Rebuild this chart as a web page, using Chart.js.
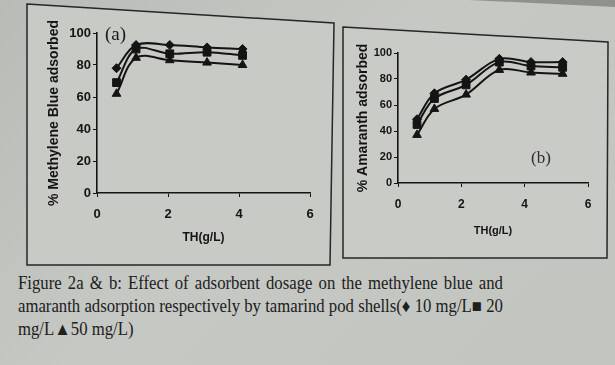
<!DOCTYPE html>
<html>
<head>
<meta charset="utf-8">
<script src="https://cdn.jsdelivr.net/npm/chart.js@4.4.1/dist/chart.umd.min.js"></script>
<style>
  html, body { margin: 0; padding: 0; }
  body {
    width: 615px; height: 365px; position: relative; overflow: hidden;
    background: linear-gradient(135deg, #b9bbb7 0%, #c6c8c4 45%, #c2c4c0 100%);
    font-family: "Liberation Sans", Arial, sans-serif;
  }
  #frame { position: absolute; left: 0; top: 0; }
  canvas { position: absolute; }
  #chartA { left: 28px; top: 8px; }
  #chartB { left: 345px; top: 30px; }
  .tag { position: absolute; font-family: "Liberation Serif", "Times New Roman", serif; }
  #tagA { left: 105px; top: 23px; font-size: 19px; color: #1a1a1a; }
  #tagB { left: 531px; top: 148px; font-size: 17px; color: #2e2e2e; }
  #caption {
    position: absolute; left: 18px; top: 272px; width: 522px;
    transform: scaleX(0.929); transform-origin: 0 0;
    font-family: "Liberation Serif", "Times New Roman", serif;
    font-size: 18px; line-height: 23px; color: #202020;
  }
  #caption .j { text-align: justify; text-align-last: justify; }
</style>
</head>
<body>
<svg id="frame" width="615" height="365">
  <polygon points="470,0 615,0 615,7" fill="#8f918b"/>
  <polygon points="27,4 334,23 330,265 27,265" fill="#c8cac6" stroke="#262626" stroke-width="1.5"/>
  <polygon points="343,27 608,42 607,258 343,258" fill="#c9cbc7" stroke="#262626" stroke-width="1.5"/>
</svg>
<canvas id="chartA" width="302" height="250"></canvas>
<canvas id="chartB" width="262" height="226"></canvas>
<div class="tag" id="tagA">(a)</div>
<div class="tag" id="tagB">(b)</div>
<div id="caption">
  <div class="j">Figure 2a &amp; b: Effect of adsorbent dosage on the methylene blue and</div>
  <div class="j">amaranth adsorption respectively by tamarind pod shells(&#9830; 10 mg/L&#9632; 20</div>
  <div>mg/L&#9650;50 mg/L)</div>
</div>
<script>
// tick labels
const yTicks = [0, 20, 40, 60, 80, 100];
const xTicks = [0, 2, 4, 6];

// (a) methylene blue, % adsorbed vs TH dose (g/L)
const doseA = [0.55, 1.1, 2.05, 3.1, 4.1];
const mb10 = [78, 92.5, 92.5, 91, 90];
const mb20 = [69, 90, 87, 88, 86];
const mb50 = [62, 84.5, 83, 81.5, 80];

// (b) amaranth, % adsorbed vs TH dose (g/L)
const doseB = [0.6, 1.15, 2.15, 3.2, 4.2, 5.2];
const am10 = [49, 69, 79.5, 95.5, 93, 93];
const am20 = [45, 65, 75.5, 93, 90, 89];
const am50 = [37, 57, 68, 87, 85, 84];

const seriesLabels = ['10 mg/L', '20 mg/L', '50 mg/L'];
const markers = ['rectRot', 'rect', 'triangle'];
const markerSize = [4.5, 5.5, 5];
const INK = '#141414';
const FONT = '"Liberation Sans", Arial, sans-serif';

function makeSets(xs, lists) {
  return lists.map((ys, i) => ({
    label: seriesLabels[i],
    data: xs.map((x, j) => ({ x, y: ys[j] })),
    showLine: true,
    tension: 0.35,
    borderColor: INK,
    backgroundColor: INK,
    borderWidth: 2,
    pointStyle: markers[i],
    pointRadius: markerSize[i],
    pointBorderWidth: 1,
  }));
}

function makeChart(id, xs, lists, cfg) {
  const ctx = document.getElementById(id).getContext('2d');
  return new Chart(ctx, {
    type: 'scatter',
    data: { datasets: makeSets(xs, lists) },
    options: {
      responsive: false,
      animation: false,
      devicePixelRatio: 1,
      layout: { padding: cfg.padding },
      plugins: { legend: { display: false }, tooltip: { enabled: false } },
      scales: {
        x: {
          type: 'linear',
          min: xTicks[0],
          max: xTicks[xTicks.length - 1],
          afterBuildTicks: s => { s.ticks = xTicks.map(v => ({ value: v })); },
          afterFit: s => { s.height = cfg.xHeight; },
          grid: { drawOnChartArea: false, drawTicks: true, tickLength: 4, tickColor: INK },
          border: { display: true, color: INK, width: 1.6 },
          ticks: { color: INK, padding: 10, font: { family: FONT, size: cfg.xTickSize, weight: 'bold' } },
          title: {
            display: true, text: 'TH(g/L)', color: INK,
            padding: { top: 0, bottom: cfg.xTitlePad },
            font: { family: FONT, size: cfg.xTitleSize, weight: 'bold' },
          },
        },
        y: {
          min: yTicks[0],
          max: yTicks[yTicks.length - 1],
          afterBuildTicks: s => { s.ticks = yTicks.map(v => ({ value: v })); },
          afterFit: s => { s.width = cfg.yWidth; },
          grid: { drawOnChartArea: false, drawTicks: true, tickLength: 4, tickColor: INK },
          border: { display: true, color: INK, width: 1.6 },
          ticks: { color: INK, padding: 2, font: { family: FONT, size: cfg.yTickSize, weight: 'bold' } },
          title: {
            display: true, text: cfg.yTitle, color: INK,
            padding: { top: cfg.yTitlePad, bottom: 0 },
            font: { family: FONT, size: 14, weight: 'bold' },
          },
        },
      },
    },
  });
}

makeChart('chartA', doseA, [mb10, mb20, mb50], {
  padding: { left: 0, top: 25, right: 20, bottom: 5 },
  xHeight: 60, yWidth: 69,
  xTickSize: 13, yTickSize: 13, xTitleSize: 12,
  xTitlePad: 8, yTitlePad: 18,
  yTitle: '% Methylene Blue adsorbed',
});

makeChart('chartB', doseB, [am10, am20, am50], {
  padding: { left: 0, top: 23, right: 19, bottom: 5 },
  xHeight: 68, yWidth: 53,
  xTickSize: 12, yTickSize: 11, xTitleSize: 11,
  xTitlePad: 13, yTitlePad: 10,
  yTitle: '% Amaranth adsorbed',
});
</script>
</body>
</html>
